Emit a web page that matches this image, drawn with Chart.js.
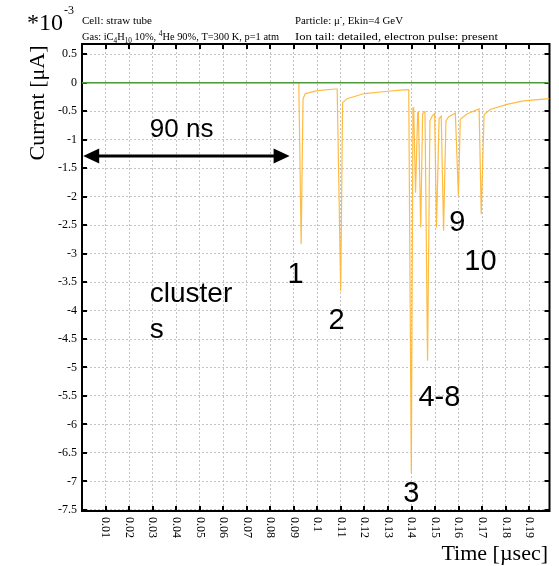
<!DOCTYPE html>
<html>
<head>
<meta charset="utf-8">
<script src="https://cdn.jsdelivr.net/npm/chart.js@4"></script>
<style>
  html, body { margin: 0; padding: 0; background: #fff; }
  #wrap { width: 559px; height: 566px; }
</style>
</head>
<body>
<div id="wrap"><canvas id="pulse-chart" width="559" height="566"></canvas></div>
<script>
// ---- data (time in usec, current in 1e-3 uA) ----
const pulseTimes = [
  0, 0.0921, 0.0931, 0.0939, 0.0949, 0.1000, 0.1076,
  0.1084, 0.1099, 0.1107, 0.1126, 0.1200, 0.1300, 0.1352, 0.1388,
  0.1399, 0.1406, 0.1409, 0.1417, 0.1426, 0.1429, 0.1439, 0.1447, 0.1457,
  0.1468, 0.1478, 0.1487, 0.1498, 0.1506, 0.1517, 0.1526, 0.1536, 0.1546,
  0.1557, 0.1586, 0.1599, 0.1607, 0.1635, 0.1687, 0.1696, 0.1708,
  0.1734, 0.1805, 0.1876, 0.1986
];
const pulseCurrents = [
  0, 0, -2.83, -0.28, -0.19, -0.14, -0.11,
  -0.11, -3.66, -0.35, -0.28, -0.19, -0.15, -0.13, -0.12,
  -6.85, -0.44, -0.44, -1.93, -0.52, -0.52, -2.54, -0.54, -0.51,
  -4.88, -0.67, -0.59, -0.54, -2.54, -0.63, -0.59, -2.60, -0.67,
  -0.60, -0.53, -1.99, -0.64, -0.55, -0.46, -2.31, -0.56,
  -0.47, -0.38, -0.32, -0.28
];
const baselineTimes = [0, 0.1986];
const baselineCurrents = [0, 0];

const xTickValues = [0.01, 0.02, 0.03, 0.04, 0.05, 0.06, 0.07, 0.08, 0.09, 0.1,
  0.11, 0.12, 0.13, 0.14, 0.15, 0.16, 0.17, 0.18, 0.19];
const yTickValues = [0.5, 0, -0.5, -1, -1.5, -2, -2.5, -3, -3.5, -4, -4.5, -5,
  -5.5, -6, -6.5, -7, -7.5];

// annotations (text, time, current)
const clusterLabels = [
  ['1', 0.0873, -3.52],
  ['2', 0.1047, -4.32],
  ['3', 0.1365, -7.36],
  ['4-8', 0.1429, -5.67],
  ['9', 0.1560, -2.61],
  ['10', 0.1624, -3.28]
];

const SERIF = '"Liberation Serif", "DejaVu Serif", serif';
const SANS = '"Liberation Sans", Arial, sans-serif';

// texte avec indices / exposants, étiré à la largeur voulue
function drawRich(ctx, x, y, parts, size, width) {
  const pieces = parts.map(p => {
    const mode = p[1] || '';
    let fs = size, dy = 0;
    if (mode === 'sub') { fs = size * 0.7; dy = size * 0.3; }
    if (mode === 'sup') { fs = size * 0.7; dy = -size * 0.4; }
    ctx.font = fs + 'px ' + SERIF;
    return { txt: p[0], fs: fs, dy: dy, w: ctx.measureText(p[0]).width };
  });
  const natural = pieces.reduce((s, p) => s + p.w, 0);
  const k = width ? width / natural : 1;
  ctx.save();
  ctx.translate(x, y);
  ctx.scale(k, 1);
  let cx = 0;
  pieces.forEach(p => {
    ctx.font = p.fs + 'px ' + SERIF;
    ctx.fillText(p.txt, cx, p.dy);
    cx += p.w;
  });
  ctx.restore();
}

const decorPlugin = {
  id: 'decor',
  beforeDatasetsDraw(chart) {
    const ctx = chart.ctx;
    const a = chart.chartArea;
    const xs = chart.scales.x, ys = chart.scales.y;
    ctx.save();
    // cadre
    ctx.strokeStyle = '#000';
    ctx.lineWidth = 2;
    ctx.strokeRect(a.left, a.top, a.right - a.left, a.bottom - a.top);
    // graduations vers l'intérieur
    ctx.beginPath();
    xTickValues.forEach(v => {
      const px = Math.round(xs.getPixelForValue(v));
      ctx.moveTo(px, a.bottom); ctx.lineTo(px, a.bottom - 5);
      ctx.moveTo(px, a.top); ctx.lineTo(px, a.top + 5);
    });
    yTickValues.forEach(v => {
      const py = Math.round(ys.getPixelForValue(v));
      ctx.moveTo(a.left, py); ctx.lineTo(a.left + 5, py);
      ctx.moveTo(a.right, py); ctx.lineTo(a.right - 5, py);
    });
    ctx.stroke();
    ctx.restore();
  },
  afterDraw(chart) {
    const ctx = chart.ctx;
    const a = chart.chartArea;
    const xs = chart.scales.x, ys = chart.scales.y;
    ctx.save();
    ctx.fillStyle = '#000';
    ctx.textBaseline = 'alphabetic';

    // étiquettes x, tournées dans le sens horaire
    ctx.font = '12px ' + SERIF;
    xTickValues.forEach(v => {
      const px = xs.getPixelForValue(v);
      ctx.save();
      ctx.translate(px, a.bottom + 6);
      ctx.rotate(Math.PI / 2);
      ctx.textAlign = 'left';
      ctx.textBaseline = 'middle';
      ctx.fillText(String(Math.round(v * 100) / 100), 0, 0);
      ctx.restore();
    });

    // titres des axes
    ctx.font = '22px ' + SERIF;
    ctx.textAlign = 'right';
    ctx.fillText('Time [\u00b5sec]', 548, 560);
    ctx.save();
    ctx.translate(44, 103);
    ctx.rotate(-Math.PI / 2);
    ctx.textAlign = 'center';
    ctx.fillText('Current [\u03bcA]', 0, 0);
    ctx.restore();

    // multiplicateur
    ctx.textAlign = 'left';
    ctx.font = '24px ' + SERIF;
    ctx.fillText('*10', 27, 30);
    ctx.font = '12px ' + SERIF;
    ctx.fillText('-3', 64, 14);

    // en-tête
    drawRich(ctx, 82, 24, [['Cell: straw tube']], 11, 70);
    drawRich(ctx, 82, 40, [['Gas: iC'], ['4', 'sub'], ['H'], ['10', 'sub'], [' 10%, '],
      ['4', 'sup'], ['He 90%, T=300 K, p=1 atm']], 11, 197);
    drawRich(ctx, 295, 24, [['Particle: \u03bc'], ['-', 'sup'], [', Ekin=4 GeV']], 11, 108);
    drawRich(ctx, 295, 40, [['Ion tail: detailed, electron pulse: present']], 11, 203);

    // flèche 90 ns
    const ay = ys.getPixelForValue(-1.288);
    const ax1 = xs.getPixelForValue(0.0005), ax2 = xs.getPixelForValue(0.0882);
    ctx.strokeStyle = '#000';
    ctx.lineWidth = 3;
    ctx.beginPath();
    ctx.moveTo(ax1 + 12, ay); ctx.lineTo(ax2 - 12, ay);
    ctx.stroke();
    ctx.beginPath();
    ctx.moveTo(ax1, ay); ctx.lineTo(ax1 + 16, ay - 7.5); ctx.lineTo(ax1 + 16, ay + 7.5); ctx.closePath();
    ctx.moveTo(ax2, ay); ctx.lineTo(ax2 - 16, ay - 7.5); ctx.lineTo(ax2 - 16, ay + 7.5); ctx.closePath();
    ctx.fill();

    ctx.font = '26px ' + SANS;
    ctx.fillText('90 ns', xs.getPixelForValue(0.0288), ys.getPixelForValue(-0.954));
    ctx.font = '28px ' + SANS;
    ctx.fillText('cluster', xs.getPixelForValue(0.0288), ys.getPixelForValue(-3.842));
    ctx.fillText('s', xs.getPixelForValue(0.0288), ys.getPixelForValue(-4.474));

    ctx.font = '29px ' + SANS;
    clusterLabels.forEach(l => {
      ctx.fillText(l[0], xs.getPixelForValue(l[1]), ys.getPixelForValue(l[2]));
    });
    ctx.restore();
  }
};

const ctx = document.getElementById('pulse-chart');

new Chart(ctx, {
  type: 'line',
  data: {
    datasets: [
      {
        label: 'signal',
        data: pulseTimes.map((t, i) => ({ x: t, y: pulseCurrents[i] })),
        borderColor: 'rgba(255, 180, 45, 0.9)',
        borderWidth: 1.2,
        pointRadius: 0,
        tension: 0,
        order: 2
      },
      {
        label: 'zero',
        data: baselineTimes.map((t, i) => ({ x: t, y: baselineCurrents[i] })),
        borderColor: '#4c9a3c',
        borderWidth: 1.5,
        pointRadius: 0,
        tension: 0,
        order: 1
      }
    ]
  },
  options: {
    responsive: false,
    animation: false,
    layout: { padding: { top: 44, right: 9.5, left: 0, bottom: 0 } },
    plugins: {
      legend: { display: false },
      tooltip: { enabled: false }
    },
    scales: {
      x: {
        type: 'linear',
        min: 0,
        max: 0.1986,
        afterBuildTicks: s => { s.ticks = xTickValues.map(v => ({ value: v })); },
        afterFit: s => { s.height = 55; },
        ticks: { display: false },
        border: { display: false, dash: [2, 2] },
        grid: { color: '#c4c4c4', lineWidth: 1, drawTicks: false }
      },
      y: {
        type: 'linear',
        min: -7.52,
        max: 0.68,
        afterBuildTicks: s => { s.ticks = yTickValues.map(v => ({ value: v })); },
        afterFit: s => { s.width = 82; },
        ticks: {
          color: '#000',
          padding: 5,
          font: { family: SERIF, size: 12 },
          callback: v => String(Math.round(v * 10) / 10)
        },
        border: { display: false, dash: [2, 2] },
        grid: { color: '#c4c4c4', lineWidth: 1, drawTicks: false }
      }
    }
  },
  plugins: [decorPlugin]
});
</script>
</body>
</html>
